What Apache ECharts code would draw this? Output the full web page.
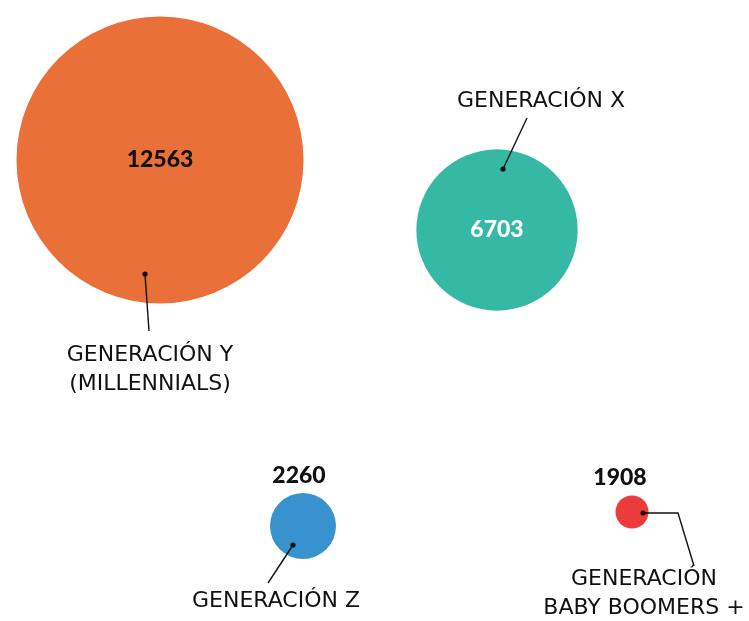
<!DOCTYPE html>
<html>
<head>
<meta charset="utf-8">
<script src="https://cdn.jsdelivr.net/npm/echarts@6/dist/echarts.min.js"></script>
<style>
  html, body { margin: 0; padding: 0; background: #fff; }
  #main { width: 749px; height: 621px; }
</style>
</head>
<body>
<div id="main"></div>
<script>
// datos
const categories = ['GENERACIÓN Y\n(MILLENNIALS)', 'GENERACIÓN X', 'GENERACIÓN Z', 'GENERACIÓN\nBABY BOOMERS +'];
const values = [12563, 6703, 2260, 1908];
const colors = ['#E97038', '#36B9A4', '#3892CE', '#EC3B3B'];

// posición de cada burbuja en el lienzo (px) y de sus etiquetas
const layout = [
  { c: [160, 160], path: [[145, 274], [149, 331]], text: [150, 370], valuePos: 'inside', valueColor: '#111' },
  { c: [497, 230], path: [[503, 169], [527, 118]], text: [541, 101], valuePos: 'inside', valueColor: '#fff' },
  { c: [303, 526], path: [[293, 545], [268, 583]], text: [276, 601], valuePos: 'top', valueColor: '#111', offset: [-4, 0] },
  { c: [632, 512], path: [[643, 513], [678, 513], [694, 566]], text: [644, 594], valuePos: 'top', valueColor: '#111', offset: [-12, 0] },
];

// escala de tamaño (diámetro en px)
const sizeStops = [[1908, 33], [2260, 66], [12563, 287]];
function sizeScale(v) {
  for (let i = 1; i < sizeStops.length; i++) {
    const a = sizeStops[i - 1], b = sizeStops[i];
    if (v <= b[0]) return a[1] + (v - a[0]) / (b[0] - a[0]) * (b[1] - a[1]);
  }
  return sizeStops[sizeStops.length - 1][1];
}

const NUM_FONT = 'Lato, "Noto Sans", sans-serif';
const TXT_FONT = '"DejaVu Sans", sans-serif';

const chart = echarts.init(document.getElementById('main'));

const bubbleData = values.map((v, i) => ({
  name: categories[i],
  value: [layout[i].c[0], layout[i].c[1], v],
  itemStyle: { color: colors[i], opacity: 1 },
  label: {
    position: layout[i].valuePos,
    color: layout[i].valueColor,
    offset: layout[i].offset || [0, 0],
  },
}));

chart.setOption({
  animation: false,
  grid: { left: 0, right: 0, top: 0, bottom: 0 },
  xAxis: { type: 'value', min: 0, max: 749, show: false },
  yAxis: { type: 'value', min: 0, max: 621, inverse: true, show: false },
  series: [
    {
      type: 'scatter',
      data: bubbleData,
      symbolSize: (val) => sizeScale(val[2]),
      itemStyle: { opacity: 1 },
      label: {
        show: true,
        formatter: (p) => p.value[2],
        fontFamily: NUM_FONT,
        fontWeight: 900,
        fontSize: 23,
        distance: 6,
      },
      silent: true,
      z: 2,
    },
    {
      type: 'custom',
      data: categories.map((c, i) => i),
      renderItem: (params, api) => {
        const i = params.dataIndex;
        const L = layout[i];
        const pts = L.path.map((p) => api.coord(p));
        const t = api.coord(L.text);
        return {
          type: 'group',
          children: [
            {
              type: 'polyline',
              shape: { points: pts },
              style: { stroke: '#111', lineWidth: 1.4, fill: null },
            },
            {
              type: 'circle',
              shape: { cx: pts[0][0], cy: pts[0][1], r: 2.6 },
              style: { fill: '#111' },
            },
            {
              type: 'text',
              x: t[0],
              y: t[1],
              style: {
                text: categories[i],
                fontFamily: TXT_FONT,
                fontSize: 22,
                lineHeight: 29,
                fill: '#111',
                align: 'center',
                verticalAlign: 'middle',
              },
            },
          ],
        };
      },
      silent: true,
      z: 3,
    },
  ],
});
</script>
</body>
</html>
